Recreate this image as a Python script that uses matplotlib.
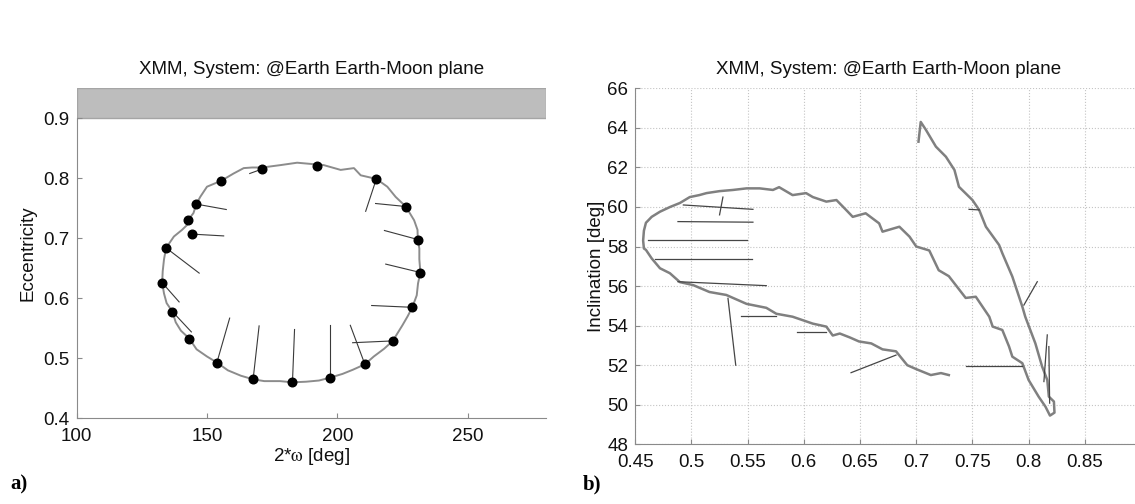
import numpy as np
import matplotlib
matplotlib.use('Agg')
import matplotlib.pyplot as plt

plt.rcParams['font.family'] = ['Liberation Sans', 'DejaVu Sans']
plt.rcParams['mathtext.fontset'] = 'stix'

title = 'XMM, System: @Earth Earth-Moon plane'

# panel a) : 2*omega vs eccentricity (loop + marked points with short lines)
loop_x = [171.2, 178.2, 184.6, 192.3, 194.8, 201.3, 206.4, 209.0, 215.0, 219.2, 222.4, 226.3,
          229.5, 230.8, 230.9, 231.5, 231.5, 231.9, 231.0, 230.5, 228.8, 227.0, 225.0, 221.3,
          218.0, 214.0, 210.6, 206.0, 202.0, 197.4, 193.0, 188.0, 182.8, 178.0, 172.0, 167.7,
          163.0, 158.0, 153.8, 150.0, 146.0, 143.2, 140.0, 138.0, 136.7, 134.5, 133.5, 132.8,
          133.0, 133.5, 134.3, 137.3, 140.4, 142.3, 142.7, 144.8, 145.9, 147.4, 150.0, 155.5,
          160.2, 164.1, 167.3, 171.2]
loop_y = [0.818, 0.822, 0.826, 0.823, 0.822, 0.814, 0.817, 0.805, 0.799, 0.786, 0.769, 0.753,
          0.730, 0.714, 0.698, 0.683, 0.665, 0.643, 0.625, 0.605, 0.585, 0.570, 0.555, 0.529,
          0.516, 0.503, 0.490, 0.481, 0.474, 0.468, 0.463, 0.461, 0.460, 0.462, 0.462, 0.465,
          0.471, 0.480, 0.493, 0.503, 0.515, 0.533, 0.546, 0.560, 0.578, 0.592, 0.608, 0.626,
          0.645, 0.665, 0.684, 0.703, 0.714, 0.722, 0.730, 0.742, 0.757, 0.769, 0.786, 0.796,
          0.808, 0.817, 0.818, 0.818]

dot_x = [171.2, 155.5, 145.9, 142.7, 144.2, 134.3, 132.8, 136.7, 143.2, 153.8, 167.7,
         182.8, 197.4, 210.6, 221.3, 228.8, 231.9, 230.9, 226.3, 215.0, 192.3]
dot_y = [0.8155, 0.796, 0.757, 0.730, 0.707, 0.684, 0.626, 0.578, 0.533, 0.493, 0.465,
         0.460, 0.468, 0.490, 0.529, 0.585, 0.643, 0.698, 0.753, 0.799, 0.821]
tail_x = [166.4, np.nan, 157.4, np.nan, 156.4, 147.0, 139.3, 144.0, np.nan, 158.7, 170.0,
          183.6, 197.4, 205.0, 205.9, 213.2, 218.6, 218.1, 214.7, 210.9, np.nan]
tail_y = [0.808, np.nan, 0.748, np.nan, 0.704, 0.642, 0.594, 0.544, np.nan, 0.567, 0.554,
          0.548, 0.555, 0.555, 0.526, 0.588, 0.657, 0.713, 0.758, 0.745, np.nan]

# panel b) : eccentricity vs inclination
incl_x = [0.702, 0.704, 0.7086, 0.7175, 0.7264, 0.734, 0.738, 0.750, 0.756, 0.762, 0.7737,
          0.7766, 0.7855, 0.7944, 0.797, 0.806, 0.812, 0.8166, 0.818, 0.8225, 0.823, 0.819,
          0.815, 0.809, 0.800, 0.7944, 0.7855, 0.7826, 0.7766, 0.768, 0.765, 0.753, 0.744,
          0.729, 0.720, 0.7116, 0.700, 0.694, 0.685, 0.670, 0.667, 0.655, 0.6435, 0.6376,
          0.629, 0.620, 0.608, 0.602, 0.590, 0.578, 0.5725, 0.5607, 0.549, 0.537, 0.525,
          0.5134, 0.507, 0.4985, 0.4897, 0.481, 0.472, 0.4646, 0.4595, 0.4577, 0.4570,
          0.4577, 0.4595, 0.4646, 0.472, 0.4808, 0.4897, 0.5015, 0.516, 0.531, 0.549,
          0.5666, 0.5755, 0.590, 0.608, 0.620, 0.6257, 0.632, 0.641, 0.649, 0.660, 0.670,
          0.682, 0.692, 0.700, 0.713, 0.722, 0.729]
incl_y = [63.3, 64.3, 63.9, 63.05, 62.54, 61.87, 61.02, 60.35, 59.85, 59.0, 58.08,
          57.66, 56.48, 54.96, 54.45, 53.1, 51.93, 51.25, 50.41, 50.16, 49.6, 49.45,
          49.9, 50.4, 51.25, 52.1, 52.43, 52.94, 53.78, 53.95, 54.45, 55.46, 55.4,
          56.5, 56.8, 57.8, 58.0, 58.5, 59.0, 58.75, 59.17, 59.68, 59.5, 59.85,
          60.35, 60.27, 60.5, 60.7, 60.6, 61.0, 60.86, 60.94, 60.94, 60.86, 60.8,
          60.7, 60.6, 60.5, 60.2, 60.0, 59.76, 59.5, 59.2, 58.8, 58.3,
          57.9, 57.83, 57.4, 56.9, 56.65, 56.2, 56.05, 55.7, 55.55, 55.1,
          54.9, 54.6, 54.45, 54.1, 53.95, 53.5, 53.6, 53.4, 53.2, 53.1, 52.8,
          52.7, 52.0, 51.8, 51.5, 51.6, 51.5]

seg_x0 = [0.4928, 0.528, 0.488, 0.4615, 0.4675, 0.488, 0.5325, 0.5444, 0.5938, 0.642,
          0.744, 0.7958, 0.8136, 0.818, 0.747]
seg_y0 = [60.1, 60.5, 59.26, 58.33, 57.35, 56.22, 55.38, 54.5, 53.7, 51.62,
          51.96, 55.04, 51.17, 52.94, 59.88]
seg_x1 = [0.5547, 0.525, 0.5547, 0.549, 0.5542, 0.5666, 0.5394, 0.5755, 0.6199, 0.682,
          0.7944, 0.8077, 0.8166, 0.8187, 0.756]
seg_y1 = [59.88, 59.6, 59.23, 58.33, 57.35, 56.02, 52.0, 54.5, 53.7, 52.51,
          51.96, 56.22, 53.53, 50.08, 59.85]

fig = plt.figure(figsize=(11.35, 5.04), dpi=100)
spine_col = '#8a8a8a'
txt_col = '#111111'

# ---- a) ----
ax1 = fig.add_axes([0.0676, 0.170, 0.4132, 0.6548])
ax1.axhspan(0.9, 0.95, facecolor='#bdbdbd', edgecolor='#a5a5a5', lw=1.0, zorder=1)
ax1.plot(loop_x, loop_y, color='#8c8c8c', lw=1.4, zorder=2)
for i in range(len(dot_x)):
    if not np.isnan(tail_x[i]):
        ax1.plot([dot_x[i], tail_x[i]], [dot_y[i], tail_y[i]], color='#3a3a3a', lw=0.8, zorder=3)
ax1.plot(dot_x, dot_y, 'o', color='black', ms=6.2, zorder=4)
ax1.set_xlim(100, 280)
ax1.set_ylim(0.4, 0.95)
ax1.set_xticks([100, 150, 200, 250])
ax1.set_yticks([0.4, 0.5, 0.6, 0.7, 0.8, 0.9])
ax1.set_yticklabels(['0.4', '0.5', '0.6', '0.7', '0.8', '0.9'])
ax1.set_xlabel(r'2*$\mathrm{\omega}$ [deg]', fontsize=13.5, color=txt_col)
ax1.set_ylabel('Eccentricity', fontsize=13.5, color=txt_col)
ax1.xaxis.set_label_coords(0.5, -0.085)
ax1.yaxis.set_label_coords(-0.085, 0.5)
ax1.set_title(title, fontsize=13.5, color=txt_col, pad=10)

# ---- b) ----
ax2 = fig.add_axes([0.5597, 0.1185, 0.4456, 0.7063])
ax2.grid(True, linestyle=':', color='#c4c4c4', lw=0.8)
ax2.set_axisbelow(True)
ax2.plot(incl_x, incl_y, color='#808080', lw=1.8, zorder=2)
for i in range(len(seg_x0)):
    ax2.plot([seg_x0[i], seg_x1[i]], [seg_y0[i], seg_y1[i]], color='#454545', lw=0.9, zorder=3)
ax2.set_xlim(0.45, 0.9)
ax2.set_ylim(48, 66)
ax2.set_xticks([0.45, 0.5, 0.55, 0.6, 0.65, 0.7, 0.75, 0.8, 0.85])
ax2.set_xticklabels(['0.45', '0.5', '0.55', '0.6', '0.65', '0.7', '0.75', '0.8', '0.85'])
ax2.set_yticks(np.arange(48, 67, 2))
ax2.set_ylabel('Inclination [deg]', fontsize=13.5, color=txt_col)
ax2.yaxis.set_label_coords(-0.06, 0.5)
ax2.set_title(title, fontsize=13.5, color=txt_col, pad=10)

for ax in (ax1, ax2):
    ax.spines['top'].set_visible(False)
    ax.spines['right'].set_visible(False)
    ax.spines['left'].set_color(spine_col)
    ax.spines['bottom'].set_color(spine_col)
    ax.tick_params(direction='in', length=3.5, color=spine_col, labelsize=13.5,
                   labelcolor=txt_col, pad=5)
    ax.tick_params(axis='x', pad=7)
ax1.spines['left'].set_bounds(0.4, 0.9)

fig.text(0.009, 0.028, 'a)', fontsize=15, fontweight='bold', family='Liberation Serif')
fig.text(0.513, 0.028, 'b)', fontsize=15, fontweight='bold', family='Liberation Serif')

fig.savefig('out.png', dpi=100)
